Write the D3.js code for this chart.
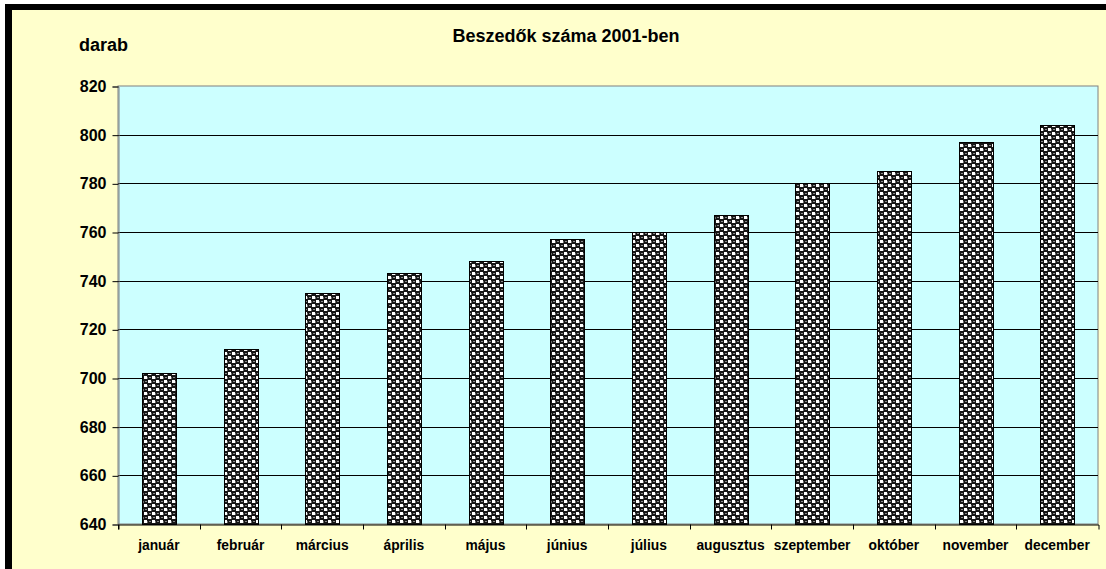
<!DOCTYPE html>
<html>
<head>
<meta charset="utf-8">
<script src="https://cdn.jsdelivr.net/npm/d3@7"></script>
<style>
	body { margin: 0; background: #fff; }
	svg text { font-family: "Liberation Sans", Arial, sans-serif; font-weight: bold; fill: #000; }
</style>
</head>
<body>
<svg id="chart" width="1106" height="569"></svg>
<script>
const months = ['január', 'február', 'március', 'április', 'május', 'június', 'július', 'augusztus', 'szeptember', 'október', 'november', 'december'];
const counts = [702, 712, 735, 743, 748, 757, 760, 767, 780, 785, 797, 804];
const yTicks = [640, 660, 680, 700, 720, 740, 760, 780, 800, 820];

const W = 1106, H = 569;
const plot = { left: 118, top: 86, right: 1098, bottom: 524 };

function draw() {
	let svg = d3.select('#chart');

	// thick black frame, only top and left are in the picture
	svg.append('rect').attr('x', 5).attr('y', 4).attr('width', W).attr('height', H).attr('fill', '#000');
	svg.append('rect').attr('x', 12).attr('y', 10).attr('width', W).attr('height', H).attr('fill', '#ffffcc');

	// sphere / checker fill like the excel pattern
	let pat = svg.append('defs').append('pattern')
		.attr('id', 'balls')
		.attr('patternUnits', 'userSpaceOnUse')
		.attr('width', 8).attr('height', 8)
		.attr('shape-rendering', 'crispEdges');
	pat.append('rect').attr('width', 8).attr('height', 8).attr('fill', '#161616');
	[[0, 0], [4, 4]].forEach(p => {
		pat.append('rect').attr('x', p[0]).attr('y', p[1]).attr('width', 3).attr('height', 3).attr('fill', '#fff');
		pat.append('rect').attr('x', p[0] + 3).attr('y', p[1] + 1).attr('width', 1).attr('height', 2).attr('fill', '#666');
	});
	[[4, 0], [0, 4]].forEach(p => {
		pat.append('rect').attr('x', p[0] + 1).attr('y', p[1] + 1).attr('width', 2).attr('height', 1).attr('fill', '#8a8a8a');
	});

	let x = d3.scaleBand().domain(months).range([plot.left, plot.right]).paddingInner(0.584).paddingOuter(0.292);
	let xb = d3.scaleBand().domain(months).range([plot.left, plot.right]);
	let y = d3.scaleLinear().domain([640, 820]).range([plot.bottom, plot.top]);

	svg.append('rect')
		.attr('x', plot.left).attr('y', plot.top)
		.attr('width', plot.right - plot.left).attr('height', plot.bottom - plot.top)
		.attr('fill', '#ccffff').attr('stroke', '#808080').attr('stroke-width', 1);

	svg.append('g')
		.selectAll('line')
		.data(yTicks.slice(1, -1))
		.enter().append('line')
			.attr('x1', plot.left).attr('x2', plot.right)
			.attr('y1', d => Math.round(y(d)) + 0.5).attr('y2', d => Math.round(y(d)) + 0.5)
			.attr('stroke', '#000');

	svg.append('g')
		.selectAll('rect')
		.data(counts)
		.enter().append('rect')
			.attr('x', (d, i) => Math.round(x(months[i])) + 0.5)
			.attr('y', d => Math.round(y(d)) + 0.5)
			.attr('width', Math.round(x.bandwidth()))
			.attr('height', d => Math.round(y(640)) - Math.round(y(d)))
			.attr('fill', 'url(#balls)')
			.attr('stroke', '#000');

	let yAxis = d3.axisLeft(y).tickValues(yTicks).tickSize(6).tickPadding(6);
	let ya = svg.append('g')
		.attr('transform', `translate(${plot.left + 0.5},0.5)`)
		.call(yAxis);
	ya.select('.domain').attr('stroke', '#808080');
	ya.selectAll('text').style('font-size', '16px');

	let xAxis = d3.axisBottom(xb).tickSize(5).tickFormat('').tickSizeOuter(5);
	let xa = svg.append('g')
		.attr('transform', `translate(0.5,${plot.bottom + 0.5})`)
		.call(xAxis);
	// ticks sit on the category boundaries
	xa.selectAll('.tick').remove();
	xa.selectAll('.bound')
		.data(months)
		.enter().append('line')
			.attr('x1', d => Math.round(xb(d))).attr('x2', d => Math.round(xb(d)))
			.attr('y1', 0).attr('y2', 5)
			.attr('stroke', '#000');

	svg.append('g')
		.selectAll('text')
		.data(months)
		.enter().append('text')
			.attr('x', d => xb(d) + xb.bandwidth() / 2)
			.attr('y', 550)
			.attr('text-anchor', 'middle')
			.style('font-size', '13.8px')
			.text(d => d);

	svg.append('text')
		.attr('x', 566).attr('y', 42)
		.attr('text-anchor', 'middle')
		.style('font-size', '18px')
		.text('Beszedők száma 2001-ben');

	svg.append('text')
		.attr('x', 79).attr('y', 51)
		.style('font-size', '18px')
		.text('darab');
}

draw();
</script>
</body>
</html>
